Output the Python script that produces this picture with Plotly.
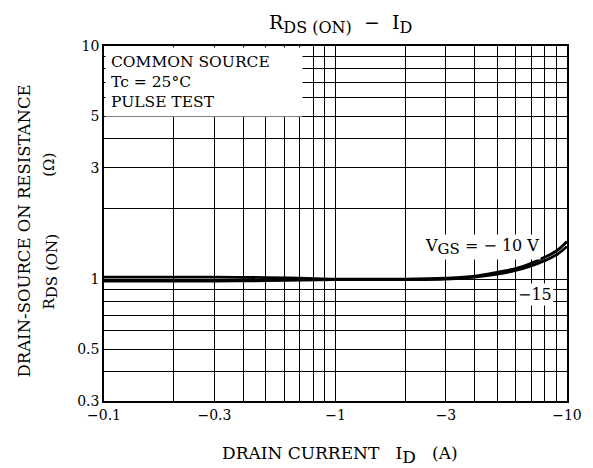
import plotly.graph_objects as go

# Data (|ID| in A, RDS(ON) in ohm)
id_vals = [0.1, 0.2, 0.3, 0.5, 0.7, 1.0, 1.5, 2.0, 3.0, 4.0, 5.0, 6.0, 7.0, 8.0, 9.0, 10.0]
r_vgs10 = [1.02, 1.02, 1.02, 1.015, 1.01, 1.0, 1.0, 1.0, 1.01, 1.03, 1.07, 1.11, 1.17, 1.24, 1.32, 1.45]
r_vgs15 = [0.98, 0.98, 0.98, 0.985, 0.99, 0.995, 0.995, 0.995, 1.0, 1.02, 1.05, 1.09, 1.14, 1.2, 1.27, 1.38]

x_grid = [0.1, 0.2, 0.3, 0.4, 0.5, 0.6, 0.7, 0.8, 0.9, 1, 2, 3, 4, 5, 6, 7, 8, 9, 10]
x_labels = {0.1: "\u22120.1", 0.3: "\u22120.3", 1: "\u22121", 3: "\u22123", 10: "\u221210"}
y_grid = [0.3, 0.4, 0.5, 0.6, 0.7, 0.8, 0.9, 1, 2, 3, 4, 5, 6, 7, 8, 9, 10]
y_labels = {0.3: "0.3", 0.5: "0.5", 1: "1", 3: "3", 5: "5", 10: "10"}

FONT = "DejaVu Serif"

def sub(t, size):
    return "<sub><span style='font-size:%dpx'>%s</span></sub>" % (size, t)

fig = go.Figure()
for r in (r_vgs10, r_vgs15):
    fig.add_trace(go.Scatter(x=id_vals, y=r, mode="lines", line=dict(color="black", width=2.8, shape="spline"),
                             showlegend=False, hoverinfo="skip"))

fig.update_layout(
    width=585, height=460,
    margin=dict(l=96, r=26, t=38, b=67),
    paper_bgcolor="white", plot_bgcolor="white",
    font=dict(family=FONT, color="black", size=14),
    showlegend=False,
)
fig.update_xaxes(type="log", range=[-1, 1], tickvals=x_grid,
                 ticktext=[x_labels.get(v, "") for v in x_grid],
                 showgrid=True, gridcolor="black", gridwidth=0.8,
                 showline=True, linecolor="black", linewidth=1.5, mirror=True,
                 ticks="", tickfont=dict(size=14), zeroline=False)
fig.update_yaxes(type="log", range=[-0.5229, 1], tickvals=y_grid,
                 ticktext=[y_labels.get(v, "") for v in y_grid],
                 showgrid=True, gridcolor="black", gridwidth=0.8,
                 showline=True, linecolor="black", linewidth=1.5, mirror=True,
                 ticks="", tickfont=dict(size=14), zeroline=False)

# Title
fig.add_annotation(text="R" + sub("DS (ON)", 16) + "  \u2212  I" + sub("D", 16), xref="paper", yref="paper",
                   x=0.51, y=1.0, yshift=7, xanchor="center", yanchor="bottom", showarrow=False, font=dict(size=19))
# Info box
fig.add_annotation(text="COMMON SOURCE<br>Tc = 25\u00b0C<br>PULSE TEST", xref="paper", yref="paper",
                   x=0.002, y=0.998, xanchor="left", yanchor="top", align="left", showarrow=False,
                   bgcolor="white", width=186, height=58, borderpad=5, font=dict(size=15.5))
# Curve labels
fig.add_annotation(text="V" + sub("GS", 15) + " = \u2212 10 V", xref="paper", yref="paper",
                   x=0.816, y=0.434, xanchor="center", yanchor="middle", showarrow=False,
                   bgcolor="white", font=dict(size=16))
fig.add_annotation(text="\u221215", xref="paper", yref="paper",
                   x=0.93, y=0.30, xanchor="center", yanchor="middle", showarrow=False,
                   bgcolor="white", font=dict(size=16))
# Axis titles
fig.add_annotation(text="DRAIN CURRENT   I" + sub("D", 17) + "   (A)", xref="paper", yref="paper",
                   x=0.51, y=0, yshift=-54, xanchor="center", yanchor="middle", showarrow=False,
                   font=dict(size=17))
fig.add_annotation(text="DRAIN-SOURCE ON RESISTANCE", xref="paper", yref="paper",
                   x=0, xshift=-91, y=0.479, textangle=-90, showarrow=False, font=dict(size=16.5))
fig.add_annotation(text="R" + sub("DS (ON)", 15) + "            (\u03a9)", xref="paper", yref="paper",
                   x=0, xshift=-66, y=0.479, textangle=-90, showarrow=False, font=dict(size=15))

fig.write_html("out.html")
